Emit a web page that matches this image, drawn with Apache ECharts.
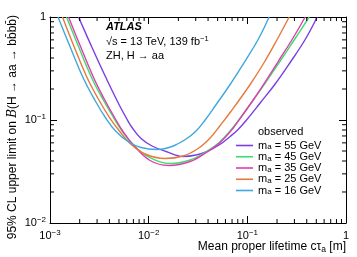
<!DOCTYPE html>
<html><head><meta charset="utf-8">
<script src="https://cdn.jsdelivr.net/npm/echarts@6/dist/echarts.min.js"></script>
<style>html,body{margin:0;padding:0;background:#fff}#c{width:357px;height:257px}</style>
</head><body><div id="c"></div>
<script>
// ---- data ----
const masses = [55, 45, 35, 25, 16];
const colors = ['#7a3fe4', '#3ddc6c', '#e23cb0', '#e57a3c', '#3fa8df'];
const m55 = [[0.0019454,1],[0.0026667,0.5057],[0.0034477,0.2957],[0.0043547,0.1849],[0.005128,0.1352],[0.0058975,0.1057],[0.0067839,0.08456],[0.0083729,0.06613],[0.010826,0.05592],[0.015012,0.04945],[0.022336,0.04421],[0.030254,0.04572],[0.039113,0.04945],[0.051761,0.05719],[0.066928,0.06915],[0.080663,0.08086],[0.09724,0.09889],[0.13483,0.1462],[0.19134,0.2236],[0.27159,0.3616],[0.38576,0.6047],[0.51051,1]];
const m45 = [[0.0014703,1],[0.0019454,0.5171],[0.0026358,0.2586],[0.0034477,0.1581],[0.0044058,0.1057],[0.0053732,0.07819],[0.0067839,0.05913],[0.0098608,0.04421],[0.016872,0.03782],[0.026299,0.04089],[0.039113,0.04978],[0.051761,0.06047],[0.066928,0.07819],[0.082571,0.1011],[0.10928,0.1462],[0.14808,0.2212],[0.21013,0.3616],[0.29818,0.598],[0.42331,1]];
const m35 = [[0.0015405,1],[0.0020385,0.5171],[0.0027618,0.2586],[0.0035706,0.1581],[0.0045098,0.1057],[0.0055,0.07732],[0.0069442,0.05783],[0.010332,0.04044],[0.016103,0.03617],[0.026299,0.03955],[0.039113,0.0489],[0.052983,0.06047],[0.070125,0.08086],[0.08452,0.1034],[0.11186,0.1512],[0.14808,0.2261],[0.20528,0.3697],[0.28457,0.6047],[0.38576,1]];
const m25 = [[0.0013387,1],[0.0017516,0.5171],[0.0023729,0.2586],[0.0030682,0.1617],[0.0040123,0.1057],[0.0050096,0.07907],[0.0064747,0.05913],[0.0091946,0.04676],[0.014666,0.04228],[0.022336,0.04471],[0.0317,0.05288],[0.041949,0.06687],[0.052983,0.08844],[0.066928,0.1182],[0.10676,0.2212],[0.14808,0.3616],[0.20054,0.6047],[0.26533,1]];
const m16 = [[0.0012054,1],[0.0015953,0.5171],[0.002161,0.2586],[0.0028603,0.1546],[0.0036978,0.1034],[0.0046705,0.07732],[0.0061794,0.06184],[0.0083729,0.05407],[0.012167,0.05171],[0.017271,0.0553],[0.023949,0.0654],[0.030254,0.07819],[0.037334,0.1],[0.047152,0.1367],[0.066928,0.2212],[0.094997,0.3739],[0.12867,0.6047],[0.16638,1]];
const curves = [m55, m45, m35, m25, m16];

const xMin = 0.001, xMax = 1, yMin = 0.01, yMax = 1;
const xMajorTicks = [0.001, 0.01, 0.1, 1];
const xTickExps = ['\u22123', '\u22122', '\u22121', ''];
const yMajorTicks = [0.01, 0.1, 1];
const yTickExps = ['\u22122', '\u22121', ''];
const xMinorTicks = [0.002,0.003,0.004,0.005,0.006,0.007,0.008,0.009,0.02,0.03,0.04,0.05,0.06,0.07,0.08,0.09,0.2,0.3,0.4,0.5,0.6,0.7,0.8,0.9];
const yMinorTicks = [0.02,0.03,0.04,0.05,0.06,0.07,0.08,0.09,0.2,0.3,0.4,0.5,0.6,0.7,0.8,0.9];

const FONT = 'Liberation Sans, Arial, Helvetica, sans-serif';
const seriesNames = masses.map(m => 'm_a = ' + m + ' GeV');

function tickFmt(ticks, exps) {
  return function (v) {
    let i = 0;
    for (let k = 0; k < ticks.length; k++) {
      if (Math.abs(Math.log10(ticks[k]) - Math.log10(v)) < 1e-6) i = k;
    }
    return exps[i] ? '{b|10}{s|' + exps[i] + '}' : '{b|1}';
  };
}
const supRich = {
  b: { fontSize: 11, fontFamily: FONT, color: '#000', lineHeight: 14 },
  s: { fontSize: 8, fontFamily: FONT, color: '#000', lineHeight: 8, verticalAlign: 'top' }
};

const majorLen = 7, minorLen = 4;

function axisCommon(show) {
  return {
    type: 'log', logBase: 10,
    axisLine: { show: true, lineStyle: { color: '#000', width: 1 } },
    axisTick: { show: true, inside: true, length: majorLen, lineStyle: { color: '#000', width: 1 } },
    minorTick: { show: false },
    splitLine: { show: false },
    axisLabel: { show: show }
  };
}

const chart = echarts.init(document.getElementById('c'), null, { renderer: 'canvas' });

const series = curves.map((d, i) => ({
  type: 'line', name: seriesNames[i], data: d,
  symbol: 'none', showSymbol: false, smooth: 0.4,
  lineStyle: { width: 1.4, color: colors[i] },
  itemStyle: { color: colors[i] },
  xAxisIndex: 0, yAxisIndex: 0, z: 3
}));

series.push({
  type: 'custom', silent: true, z: 5, clip: false, xAxisIndex: 0, yAxisIndex: 0,
  data: xMinorTicks.map(v => [v, yMin]),
  renderItem(params, api) {
    const cs = params.coordSys;
    const x = api.coord([api.value(0), yMin])[0];
    const b = cs.y + cs.height, t = cs.y;
    return { type: 'group', children: [
      { type: 'line', shape: { x1: x, y1: b, x2: x, y2: b - minorLen }, style: { stroke: '#000', lineWidth: 1 } },
      { type: 'line', shape: { x1: x, y1: t, x2: x, y2: t + minorLen }, style: { stroke: '#000', lineWidth: 1 } }
    ] };
  }
});
series.push({
  type: 'custom', silent: true, z: 5, clip: false, xAxisIndex: 0, yAxisIndex: 0,
  data: yMinorTicks.map(v => [xMin, v]),
  renderItem(params, api) {
    const cs = params.coordSys;
    const y = api.coord([xMin, api.value(1)])[1];
    const l = cs.x, r = cs.x + cs.width;
    return { type: 'group', children: [
      { type: 'line', shape: { x1: l, y1: y, x2: l + minorLen, y2: y }, style: { stroke: '#000', lineWidth: 1 } },
      { type: 'line', shape: { x1: r, y1: y, x2: r - minorLen, y2: y }, style: { stroke: '#000', lineWidth: 1 } }
    ] };
  }
});

const xa0 = Object.assign(axisCommon(true), { min: xMin, max: xMax, position: 'bottom' });
xa0.axisLabel = { show: true, margin: 6, formatter: tickFmt(xMajorTicks, xTickExps), rich: supRich };
const xa1 = Object.assign(axisCommon(false), { min: xMin, max: xMax, position: 'top' });
const ya0 = Object.assign(axisCommon(true), { min: yMin, max: yMax, position: 'left' });
ya0.axisLabel = { show: true, margin: 4, formatter: tickFmt(yMajorTicks, yTickExps), rich: supRich };
const ya1 = Object.assign(axisCommon(false), { min: yMin, max: yMax, position: 'right' });

const legendRich = {
  t: { fontSize: 11, fontFamily: FONT, color: '#000', lineHeight: 11.5 },
  s: { fontSize: 8, fontFamily: FONT, color: '#000', lineHeight: 5, verticalAlign: 'bottom' }
};

chart.setOption({
  animation: false,
  backgroundColor: '#fff',
  grid: { left: 50, right: 11, top: 17, bottom: 34, containLabel: false },
  xAxis: [xa0, xa1],
  yAxis: [ya0, ya1],
  legend: {
    data: seriesNames, orient: 'vertical', left: 236, top: 140, padding: 0,
    itemGap: 0, itemWidth: 17, itemHeight: 1.6, icon: 'rect',
    formatter: name => '{t|m}{s|a}{t| = ' + masses[seriesNames.indexOf(name)] + ' GeV}',
    textStyle: { rich: legendRich, fontFamily: FONT, fontSize: 11 }
  },
  series: series,
  graphic: [
    { type: 'text', x: 106, y: 27, style: { text: 'ATLAS', font: 'italic bold 11px ' + FONT, fill: '#000', verticalAlign: 'middle', textVerticalAlign: 'middle' } },
    { type: 'text', x: 106, y: 42, style: {
        text: '{n|\u221As = 13 TeV, 139 fb}{p|\u22121}', verticalAlign: 'middle', textVerticalAlign: 'middle',
        rich: { n: { fontSize: 11, fontFamily: FONT, fill: '#000', color: '#000', lineHeight: 14 },
                p: { fontSize: 7.5, fontFamily: FONT, fill: '#000', color: '#000', lineHeight: 8, verticalAlign: 'top' } } } },
    { type: 'text', x: 106, y: 55.5, style: { text: 'ZH, H \u2192 aa', font: '11px ' + FONT, fill: '#000', verticalAlign: 'middle', textVerticalAlign: 'middle' } },
    { type: 'text', x: 258, y: 132, style: { text: 'observed', font: '11px ' + FONT, fill: '#000', verticalAlign: 'middle', textVerticalAlign: 'middle' } },
    { type: 'text', x: 346, y: 247, style: {
        text: '{n|Mean proper lifetime c\u03C4}{s|a}{n| [m]}', align: 'right', textAlign: 'right', verticalAlign: 'middle', textVerticalAlign: 'middle',
        rich: { n: { fontSize: 12, fontFamily: FONT, fill: '#000', color: '#000', lineHeight: 14 },
                s: { fontSize: 8.5, fontFamily: FONT, fill: '#000', color: '#000', lineHeight: 6, verticalAlign: 'bottom' } } } },
    { type: 'text', x: 13, y: 15, rotation: Math.PI / 2, style: {
        text: '{n|95% CL upper limit on }{i|B}{n|(H \u2192 aa \u2192 bb\u0304bb\u0304)}', align: 'right', textAlign: 'right', verticalAlign: 'middle', textVerticalAlign: 'middle',
        rich: { n: { fontSize: 12, fontFamily: FONT, fill: '#000', color: '#000', lineHeight: 14 },
                i: { fontSize: 12, fontFamily: 'DejaVu Serif, serif', fontStyle: 'italic', fill: '#000', color: '#000', lineHeight: 14 } } } }
  ]
});
</script></body></html>
